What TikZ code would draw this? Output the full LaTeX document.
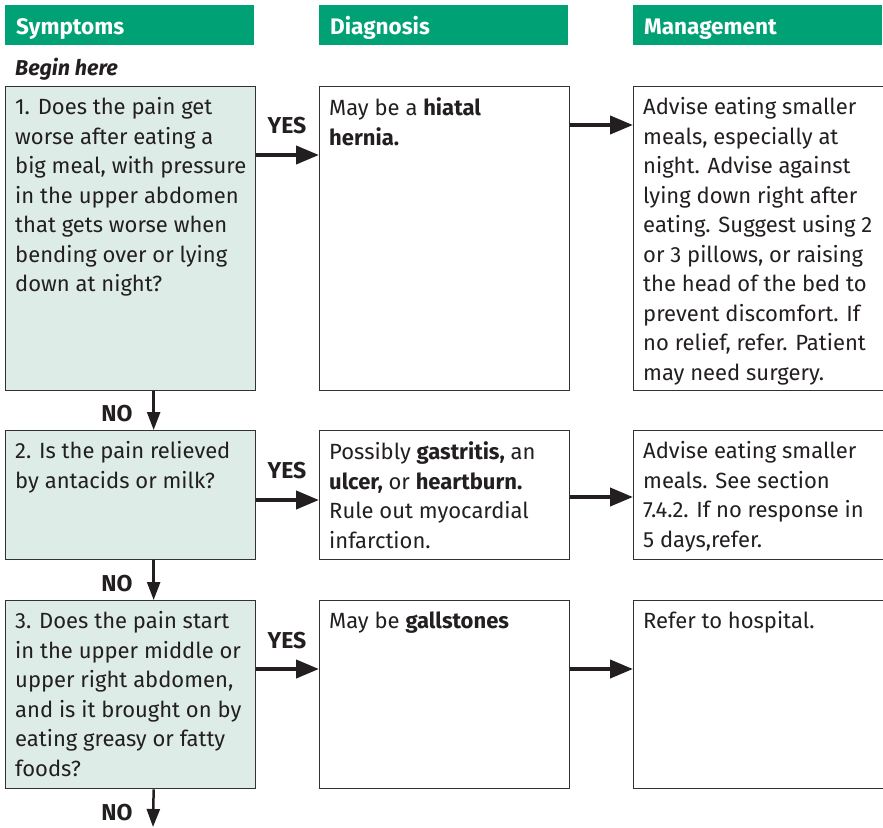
\documentclass[tikz,border=0pt]{standalone}
\usepackage{fontspec}
\setmainfont{Fira Sans}
\usetikzlibrary{arrows.meta}
\definecolor{hdrgreen}{RGB}{0,161,117}
\definecolor{symfill}{RGB}{221,236,230}
\definecolor{boxline}{RGB}{50,50,50}
\definecolor{ink}{RGB}{35,31,32}

\begin{document}
\begin{tikzpicture}[x=1pt,y=1pt,yscale=-1,xscale=1,
  header/.style={fill=hdrgreen,text=white,anchor=north west,font=\bfseries\fontsize{22.5}{26}\selectfont,
    minimum width=249pt,minimum height=40pt,inner xsep=11pt,text height=22pt,text depth=4pt,text width=227pt,align=left},
  symbox/.style={draw=boxline,line width=1.3pt,fill=symfill,anchor=north west,minimum width=250pt,inner sep=0pt},
  plainbox/.style={draw=boxline,line width=1.3pt,fill=white,anchor=north west,minimum width=250pt,inner sep=0pt},
  boxtext/.style={anchor=north west,inner sep=0pt,xshift=10pt,yshift=-11.5pt,align=left,text=ink,
    font=\fontsize{22}{29.5}\selectfont},
  yesarr/.style={draw=ink,line width=4pt,-{Triangle[length=23pt,width=18pt]}},
  noarr/.style={draw=ink,line width=2.5pt,-{Triangle[length=18pt,width=13pt]}},
  lbl/.style={text=ink,inner sep=0pt,font=\bfseries\fontsize{23}{26}\selectfont}]
        \useasboundingbox (0,0) rectangle (883,827);

        %Shape: Header bars
        \node[header] (hsym) at (5,5) {Symptoms};
        \node[header] (hdia) at (319,5) {Diagnosis};
        \node[header] (hman) at (633,5) {Management};
        % Text Node
        \node[anchor=west,inner sep=0pt,text=ink,font=\bfseries\itshape\fontsize{21.5}{24}\selectfont] (begin) at (15,69) {Begin here};

        %Shape: Row 1
        \node[symbox,minimum height=304pt] (sym1) at (5,86) {};
        \node[plainbox,minimum height=304pt] (dia1) at (319,86) {};
        \node[plainbox,minimum height=304pt] (man1) at (633,86) {};
        %Shape: Row 2
        \node[symbox,minimum height=129pt] (sym2) at (5,430) {};
        \node[plainbox,minimum height=129pt] (dia2) at (319,430) {};
        \node[plainbox,minimum height=129pt] (man2) at (633,430) {};
        %Shape: Row 3
        \node[symbox,minimum height=188pt] (sym3) at (5,600) {};
        \node[plainbox,minimum height=188pt] (dia3) at (319,600) {};
        \node[plainbox,minimum height=188pt] (man3) at (633,600) {};
        \coordinate (out3) at (153,827);

        % Text Node
        \node[boxtext] (tsym1) at (sym1.north west) {1. Does the pain get\\worse after eating a\\big meal, with pressure\\in the upper abdomen\\that gets worse when\\bending over or lying\\down at night?};
        % Text Node
        \node[boxtext] (tdia1) at (dia1.north west) {May be a \textbf{hiatal}\\\textbf{hernia.}};
        % Text Node
        \node[boxtext] (tman1) at (man1.north west) {Advise eating smaller\\meals, especially at\\night. Advise against\\lying down right after\\eating. Suggest using 2\\or 3 pillows, or raising\\the head of the bed to\\prevent discomfort. If\\no relief, refer. Patient\\may need surgery.};
        % Text Node
        \node[boxtext] (tsym2) at (sym2.north west) {2. Is the pain relieved\\by antacids or milk?};
        % Text Node
        \node[boxtext] (tdia2) at (dia2.north west) {Possibly \textbf{gastritis,} an\\\textbf{ulcer,} or \textbf{heartburn.}\\Rule out myocardial\\infarction.};
        % Text Node
        \node[boxtext] (tman2) at (man2.north west) {Advise eating smaller\\meals. See section\\7.4.2. If no response in\\5 days,refer.};
        % Text Node
        \node[boxtext] (tsym3) at (sym3.north west) {3. Does the pain start\\in the upper middle or\\upper right abdomen,\\and is it brought on by\\eating greasy or fatty\\foods?};
        % Text Node
        \node[boxtext] (tdia3) at (dia3.north west) {May be \textbf{gallstones}};
        % Text Node
        \node[boxtext] (tman3) at (man3.north west) {Refer to hospital.};

        %Straight Lines: YES arrows
        \draw[yesarr] ([yshift=69pt]sym1.north east) -- ([yshift=69pt]dia1.north west);
        \draw[yesarr] ([yshift=70pt]sym2.north east) -- ([yshift=70pt]dia2.north west);
        \draw[yesarr] ([yshift=69pt]sym3.north east) -- ([yshift=69pt]dia3.north west);
        %Straight Lines: to management
        \draw[yesarr] ([yshift=39pt]dia1.north east) -- ([yshift=39pt]man1.north west);
        \draw[yesarr] ([yshift=67pt]dia2.north east) -- ([yshift=67pt]man2.north west);
        \draw[yesarr] ([yshift=69pt]dia3.north east) -- ([yshift=69pt]man3.north west);
        %Straight Lines: NO arrows
        \draw[noarr] ([xshift=23pt]sym1.south) -- ([xshift=23pt]sym2.north);
        \draw[noarr] ([xshift=23pt]sym2.south) -- ([xshift=23pt]sym3.north);
        \draw[noarr] ([xshift=23pt]sym3.south) -- (out3);

        % Text Node
        \node[lbl] (yes1) at (287,126) {YES};
        \node[lbl] (yes2) at (287,471) {YES};
        \node[lbl] (yes3) at (287,641) {YES};
        % Text Node
        \node[lbl] (no1) at (117,414) {NO};
        \node[lbl] (no2) at (117,584) {NO};
        \node[lbl] (no3) at (117,813) {NO};

\end{tikzpicture}
\end{document}
